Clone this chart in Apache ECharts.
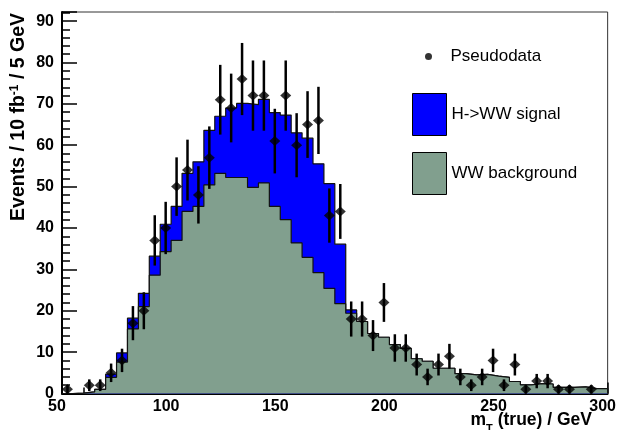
<!DOCTYPE html>
<html><head><meta charset="utf-8">
<script src="https://cdn.jsdelivr.net/npm/echarts@6/dist/echarts.min.js"></script>
<style>html,body{margin:0;padding:0;background:#fff}#c{width:619px;height:430px}</style>
</head><body><div id="c"></div>
<script>
// ---- data (5 GeV bins, 50..300 GeV) ----
const binEdges = [50,55,60,65,70,75,80,85,90,95,100,105,110,115,120,125,130,135,140,145,150,
  155,160,165,170,175,180,185,190,195,200,205,210,215,220,225,230,235,240,245,250,
  255,260,265,270,275,280,285,290,295,300];
const wwBackground = [0,0.1,0.4,1.0,3.9,7.6,15.6,21.0,28.6,34.3,
  37.0,44.0,45.2,50.4,53.2,52.2,52.2,49.8,50.9,45.2,
  42.0,36.4,32.9,29.2,25.4,21.7,19.4,17.4,14.5,13.6,
  11.8,10.9,8.4,7.8,6.1,6.1,4.8,4.5,4.6,4.2,
  3.9,2.9,2.1,2.4,2.3,1.5,1.5,1.6,1.2,1.2];
const hwwSignal = [0,0,0,0,0.8,2.2,2.6,3.2,4.6,6.6,
  8.2,9.2,10.8,13.2,13.8,16.8,17.9,20.0,20.2,22.7,
  25.3,26.6,28.8,26.3,25.3,14.4,0.8,0,0,0,
  0,0,0,0,0,0,0,0,0,0,
  0,0,0,0,0,0,0,0,0,0];
const pseudodata = [1,0,2,2,5,8,17,20,37,40,
  50,54,48,57,71,69,76,72,72,61,
  72,60,65,66,43,44,18,18,14,22,
  11,11,7,4,7,9,4,2,4,8,
  2,7,1,3,3,1,1,0,1,0];
const xTickLabels = [50,100,150,200,250,300];
const yTickLabels = [0,10,20,30,40,50,60,70,80,90];

// ---- derived structures ----
const nBins = binEdges.length - 1;
const total = wwBackground.map((b, i) => b + hwwSignal[i]);
function stepData(vals) {
  const d = [[binEdges[0], 0]];
  for (let i = 0; i < nBins; i++) d.push([binEdges[i], vals[i]]);
  d.push([binEdges[nBins], vals[nBins - 1]]);
  d.push([binEdges[nBins], 0]);
  return d;
}
const pts = [], errs = [];
for (let i = 0; i < nBins; i++) {
  const n = pseudodata[i];
  if (n > 0) {
    const c = (binEdges[i] + binEdges[i + 1]) / 2;
    pts.push([c, n]);
    errs.push([c, n - Math.sqrt(n), n + Math.sqrt(n)]);
  }
}

const FONT = 'Liberation Sans';
const BLUE = '#0000ff';
const GREEN = '#819f8e';
const chart = echarts.init(document.getElementById('c'), null, {renderer: 'canvas'});
const xMin = xTickLabels[0], xMax = xTickLabels[xTickLabels.length - 1];
const yMax = 92.2;

chart.setOption({
  animation: false,
  backgroundColor: '#fff',
  grid: {left: 62, right: 9, top: 12, bottom: 36.5, show: true, borderColor: '#333', borderWidth: 1, containLabel: false},
  title: {
    text: '{m|m}{sub|T}{a| (true) / GeV}',
    right: 27, top: 411, padding: 0,
    textStyle: {
      rich: {
        m: {fontFamily: FONT, fontWeight: 'bold', fontSize: 17.5, color: '#000', verticalAlign: 'top', lineHeight: 18},
        a: {fontFamily: FONT, fontWeight: 'bold', fontSize: 17.5, color: '#000', verticalAlign: 'top', lineHeight: 18},
        sub: {fontFamily: FONT, fontWeight: 'bold', fontSize: 11, color: '#000', verticalAlign: 'top', lineHeight: 11, padding: [12, 0, 0, 0]}
      }
    }
  },
  graphic: [{
    type: 'text', x: 19, y: 13, rotation: Math.PI / 2, silent: true,
    style: {
      text: 'Events / 10 fb{sup|-1} / 5 GeV',
      font: 'bold 19.5px "Liberation Sans"', fill: '#000',
      align: 'right', verticalAlign: 'middle', lineHeight: 21,
      rich: {sup: {fontFamily: FONT, fontWeight: 'bold', fontSize: 12, fill: '#000', verticalAlign: 'top', lineHeight: 12}}
    }
  }],
  legend: [
    {data: ['Pseudodata'], left: 425, top: 48, padding: 0, icon: 'circle', itemWidth: 34, itemHeight: 7,
     selectedMode: false, textStyle: {fontFamily: FONT, fontSize: 17, color: '#000'}},
    {data: [{name: 'H->WW signal', itemStyle: {color: BLUE, borderColor: '#000', borderWidth: 1}}],
     left: 412, top: 93, padding: 0, icon: 'rect', itemWidth: 34, itemHeight: 42,
     selectedMode: false, textStyle: {fontFamily: FONT, fontSize: 17, color: '#000'}},
    {data: [{name: 'WW background', itemStyle: {color: GREEN, borderColor: '#000', borderWidth: 1}}],
     left: 412, top: 152, padding: 0, icon: 'rect', itemWidth: 34, itemHeight: 42,
     selectedMode: false, textStyle: {fontFamily: FONT, fontSize: 17, color: '#000'}}
  ],
  xAxis: {
    type: 'value', min: xMin, max: xMax, interval: 50,
    axisLine: {show: true, onZero: false, lineStyle: {color: '#000', width: 2}},
    axisTick: {show: true, inside: true, length: 11, lineStyle: {color: '#000', width: 1.5}},
    minorTick: {show: true, splitNumber: 5, length: 6, lineStyle: {color: '#000', width: 1.5}},
    splitLine: {show: false},
    axisLabel: {fontFamily: FONT, fontWeight: 'bold', fontSize: 16, color: '#000', margin: 5, padding: [0, 10, 0, 0],
      formatter: v => xTickLabels.indexOf(v) >= 0 ? String(v) : ''}
  },
  yAxis: [{
    type: 'value', min: 0, max: yMax, interval: 10, position: 'left',
    axisLine: {show: true, onZero: false, lineStyle: {color: '#000', width: 2}},
    axisTick: {show: true, inside: true, length: 15, lineStyle: {color: '#000', width: 1.5}},
    splitLine: {show: false},
    axisLabel: {fontFamily: FONT, fontWeight: 'bold', fontSize: 16, color: '#000', margin: 8,
      formatter: v => yTickLabels.indexOf(v) >= 0 ? String(v) : ''}
  }, {
    type: 'value', min: 0, max: yMax, interval: 2, position: 'left',
    axisLine: {show: false},
    axisTick: {show: true, inside: true, length: 8, lineStyle: {color: '#000', width: 1.5}},
    splitLine: {show: false},
    axisLabel: {show: false}
  }],
  series: [
    {name: 'H->WW signal', type: 'line', step: 'end', data: stepData(total), showSymbol: false, symbol: 'none',
     lineStyle: {color: '#111', width: 1.2}, itemStyle: {color: BLUE}, areaStyle: {color: BLUE, opacity: 1}, z: 2},
    {name: 'WW background', type: 'line', step: 'end', data: stepData(wwBackground), showSymbol: false, symbol: 'none',
     lineStyle: {color: '#111', width: 1.2}, itemStyle: {color: GREEN}, areaStyle: {color: GREEN, opacity: 1}, z: 3},
    {name: 'errors', type: 'custom', data: errs, encode: {x: 0, y: [1, 2]}, z: 4,
     renderItem: (params, api) => {
       const x = api.value(0);
       const lo = api.coord([x, api.value(1)]);
       const hi = api.coord([x, api.value(2)]);
       return {type: 'line', shape: {x1: lo[0], y1: lo[1], x2: hi[0], y2: hi[1]}, style: {stroke: '#000', lineWidth: 2.5}};
     }},
    {name: 'Pseudodata', type: 'scatter', data: pts, symbol: 'diamond', symbolSize: [11, 10],
     itemStyle: {color: '#000'}, z: 5}
  ]
});
</script></body></html>
